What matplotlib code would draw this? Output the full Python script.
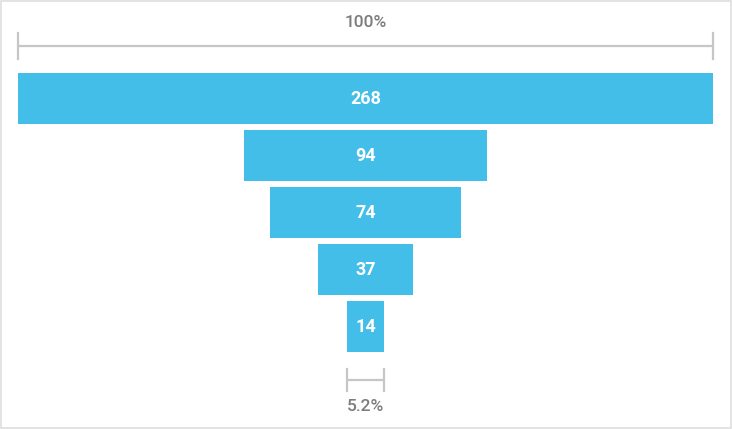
import matplotlib
matplotlib.use("Agg")
import matplotlib.pyplot as plt
from matplotlib.patches import Rectangle

# Data
stages = ["Stage 1", "Stage 2", "Stage 3", "Stage 4", "Stage 5"]
values = [268, 94, 74, 37, 14]
top_label = "100%"
bottom_label = "5.2%"

bar_color = "#42bee9"
bracket_color = "#c6c6c6"
label_gray = "#7c7c7c"

plt.rcParams['font.family'] = ['Roboto', 'DejaVu Sans']

fig = plt.figure(figsize=(7.32, 4.29), dpi=100)
ax = fig.add_axes([0, 0, 1, 1])

# funnel bars centred on 0
pos = list(range(len(values)))
lefts = [-v / 2 for v in values]
ax.barh(pos, values, left=lefts, height=0.895, color=bar_color)

for p, v in zip(pos, values):
    ax.text(0, p, str(v), ha='center', va='center', color='white',
            fontsize=13, fontweight='bold')

# top bracket (first stage width)
w0 = values[0] / 2
y_top = -0.921
ax.plot([-w0, w0], [y_top, y_top], color=bracket_color, lw=1.6, solid_capstyle='butt')
for x in (-w0, w0):
    ax.plot([x, x], [y_top - 0.22, y_top + 0.22], color=bracket_color, lw=1.6)
ax.text(0, -1.33, top_label, ha='center', va='center', color=label_gray,
        fontsize=12.5, fontweight='medium')

# bottom bracket (last stage width)
w4 = values[-1] / 2
y_bot = 4.939
ax.plot([-w4, w4], [y_bot, y_bot], color=bracket_color, lw=1.6, solid_capstyle='butt')
for x in (-w4, w4):
    ax.plot([x, x], [y_bot - 0.19, y_bot + 0.19], color=bracket_color, lw=1.6)
ax.text(0, 5.41, bottom_label, ha='center', va='center', color=label_gray,
        fontsize=12.5, fontweight='medium')

ax.set_xlim(-140.94, 141.33)
ax.set_ylim(5.798, -1.728)
ax.axis('off')

# light frame round the picture
fig.patches.append(Rectangle((0.0007, 0.0012), 0.9986, 0.9976, transform=fig.transFigure,
                             fill=False, edgecolor='#dedede', lw=1.2))

fig.savefig("out.png", dpi=100)
